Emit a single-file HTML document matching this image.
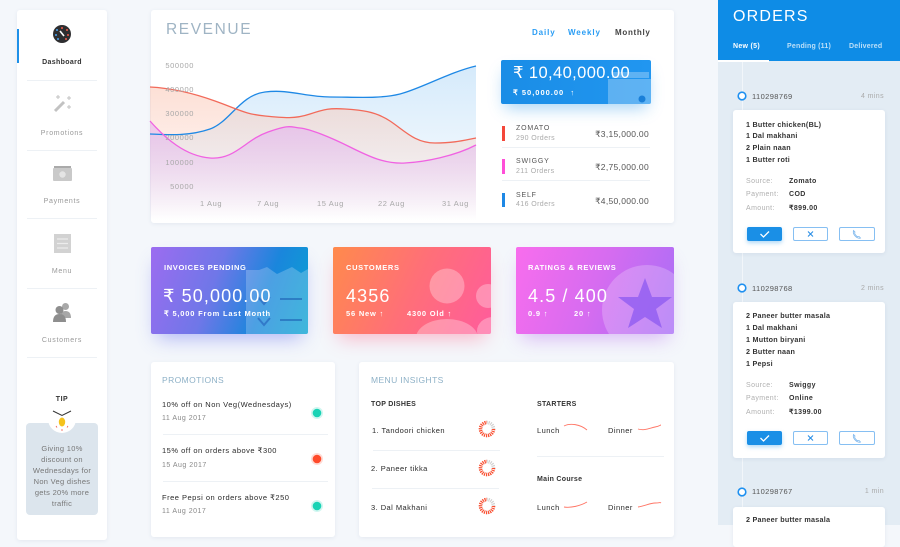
<!DOCTYPE html>
<html><head><meta charset="utf-8">
<style>
*{margin:0;padding:0;box-sizing:border-box}
body{width:900px;height:525px;overflow:hidden;background:#f4f7fb;font-family:"Liberation Sans",sans-serif;position:relative}
.a{position:absolute}
.t{position:absolute;line-height:1;white-space:nowrap}
.card{position:absolute;background:#fff;border-radius:3px;box-shadow:0 1px 4px rgba(40,70,110,0.08)}
.sep{position:absolute;height:1px;background:#edf1f5}
.sl{left:17px;width:90px;text-align:center;font-size:7px;color:#999;letter-spacing:.7px}
.yl{left:146px;width:48px;text-align:right;font-size:7.5px;color:#a8a8a8;letter-spacing:.6px}
.xl{font-size:7.5px;color:#a8a8a8;letter-spacing:.6px;top:199.5px}
.w{color:#fff}
.cl{font-size:7.5px;font-weight:bold;letter-spacing:.65px;color:#fff}
.cb{font-size:18px;letter-spacing:1.1px;color:#fff}
.cs{font-size:7.5px;font-weight:bold;letter-spacing:.8px;color:#fff}
.pi{font-size:7.5px;color:#2a2a2a;letter-spacing:.5px;left:162px}
.pd{font-size:7px;color:#888;letter-spacing:.5px;left:162px}
.dish{font-size:7.5px;color:#2a2a2a;letter-spacing:.45px}
.oi{font-size:7.2px;font-weight:bold;color:#333;letter-spacing:.25px;left:746px}
.ol{font-size:7px;color:#b0b0b0;letter-spacing:.4px;left:746px}
.ov{font-size:7px;font-weight:bold;color:#333;letter-spacing:.4px;left:789px}
.on{font-size:7.5px;color:#555;letter-spacing:.4px;left:752px}
.om{font-size:7px;color:#aaa;letter-spacing:.4px;left:820px;width:64px;text-align:right}
.btn{position:absolute;height:14px;border-radius:2px;border:1px solid #86bff2;background:#fff}
</style></head><body>

<!-- Sidebar -->
<div class="card" style="left:17px;top:10px;width:90px;height:530px"></div>
<div class="a" style="left:17px;top:29px;width:2px;height:34px;background:#1e90e8"></div>
<div class="sep" style="left:27px;top:80px;width:70px"></div>
<div class="sep" style="left:27px;top:150px;width:70px"></div>
<div class="sep" style="left:27px;top:218px;width:70px"></div>
<div class="sep" style="left:27px;top:288px;width:70px"></div>
<div class="sep" style="left:27px;top:357px;width:70px"></div>
<div class="a" style="left:26px;top:423px;width:72px;height:92px;background:#dce5ed;border-radius:4px"></div>

<!-- Revenue card -->
<div class="card" style="left:151px;top:10px;width:523px;height:213px"></div>

<!-- Colored cards -->
<div class="a" style="left:151px;top:247px;width:157px;height:87px;border-radius:2px;overflow:hidden;background:linear-gradient(110deg,#9c6cf0 0%,#6f77e8 40%,#1a86dc 70%,#0aa3d2 100%);box-shadow:0 10px 18px -6px rgba(90,100,240,0.45)">
<svg width="157" height="87" style="position:absolute;left:0;top:0">
<polygon points="95,23 108,23 116,20 126,27 141,20 150,26 157,22 157,87 95,87" fill="rgba(255,255,255,0.22)"/>
<polyline points="107,50 113,57 119,50" fill="none" stroke="rgba(20,70,170,0.45)" stroke-width="2"/>
<polyline points="107,71 113,78 119,71" fill="none" stroke="rgba(20,70,170,0.45)" stroke-width="2"/>
<line x1="129" y1="52" x2="151" y2="52" stroke="rgba(20,80,170,0.5)" stroke-width="2"/>
<line x1="129" y1="73" x2="151" y2="73" stroke="rgba(20,80,170,0.5)" stroke-width="2"/>
</svg></div>
<div class="a" style="left:333px;top:247px;width:158px;height:87px;border-radius:2px;overflow:hidden;background:linear-gradient(115deg,#ff8a4c 0%,#ff6f78 50%,#ff5c9c 100%);box-shadow:0 10px 18px -6px rgba(255,100,140,0.45)">
<svg width="158" height="87" style="position:absolute;left:0;top:0">
<circle cx="114" cy="39" r="17.5" fill="rgba(255,255,255,0.3)"/>
<circle cx="155" cy="49" r="12" fill="rgba(255,255,255,0.3)"/>
<ellipse cx="114" cy="91" rx="31" ry="19" fill="rgba(255,255,255,0.3)"/>
<ellipse cx="160" cy="84" rx="16" ry="14" fill="rgba(255,255,255,0.3)"/>
</svg></div>
<div class="a" style="left:516px;top:247px;width:158px;height:87px;border-radius:2px;overflow:hidden;background:linear-gradient(110deg,#f86ded 0%,#d66cf0 50%,#a86ef6 100%);box-shadow:0 10px 18px -6px rgba(180,100,240,0.45)">
<svg width="158" height="87" style="position:absolute;left:0;top:0">
<circle cx="131" cy="63" r="45" fill="rgba(255,255,255,0.22)"/>
<polygon points="129,31 136,50 156,50 140,62 146,81 129,70 112,81 118,62 102,50 122,50" fill="rgba(140,90,240,0.75)"/>
</svg></div>

<!-- Promotions & Menu cards -->
<div class="card" style="left:151px;top:362px;width:184px;height:175px"></div>
<div class="card" style="left:359px;top:362px;width:315px;height:175px"></div>
<div class="sep" style="left:163px;top:434px;width:165px"></div>
<div class="sep" style="left:163px;top:481px;width:165px"></div>
<div class="sep" style="left:373px;top:450px;width:127px"></div>
<div class="sep" style="left:372px;top:488px;width:127px"></div>
<div class="sep" style="left:537px;top:456px;width:127px"></div>

<!-- Orders panel -->
<div class="a" style="left:718px;top:0;width:182px;height:525px;background:#e3ecf4"></div>
<div class="a" style="left:718px;top:0;width:182px;height:61px;background:#0e8ce6"></div>
<div class="a" style="left:718px;top:60px;width:51px;height:2px;background:#fff"></div>
<div class="a" style="left:742px;top:62px;width:1px;height:463px;background:#f2f6fa"></div>
<div class="card" style="left:733px;top:110px;width:152px;height:143px"></div>
<div class="card" style="left:733px;top:302px;width:152px;height:156px"></div>
<div class="card" style="left:733px;top:507px;width:152px;height:40px"></div>

<div class="btn" style="left:747px;top:227px;width:35px;background:#1a8fe6;border-color:#1a8fe6;box-shadow:0 2px 4px rgba(26,143,230,0.35)"></div>
<div class="btn" style="left:793px;top:227px;width:35px"></div>
<div class="btn" style="left:839px;top:227px;width:36px"></div>
<div class="btn" style="left:747px;top:431px;width:35px;background:#1a8fe6;border-color:#1a8fe6;box-shadow:0 2px 4px rgba(26,143,230,0.35)"></div>
<div class="btn" style="left:793px;top:431px;width:35px"></div>
<div class="btn" style="left:839px;top:431px;width:36px"></div>

<!-- Revenue total box -->
<div class="a" style="left:501px;top:60px;width:150px;height:44px;border-radius:2px;overflow:hidden;background:linear-gradient(90deg,#1a8de6,#2196f0);box-shadow:0 8px 16px -4px rgba(30,144,230,0.4)">
<svg width="150" height="44" style="position:absolute;left:0;top:0">
<rect x="111" y="12" width="37" height="6" fill="rgba(255,255,255,0.28)"/>
<rect x="107" y="19" width="43" height="25" fill="rgba(255,255,255,0.28)"/>
<circle cx="141" cy="39" r="3.5" fill="#1a7fd8"/>
</svg></div>

<!-- Global SVG -->
<svg class="a" style="left:0;top:0" width="900" height="525" viewBox="0 0 900 525">
<defs>
<linearGradient id="gb" x1="0" y1="0" x2="0" y2="1"><stop offset="0" stop-color="#b9dcf8" stop-opacity=".6"/><stop offset="1" stop-color="#b9dcf8" stop-opacity="0"/></linearGradient>
<linearGradient id="gr" x1="0" y1="0" x2="0" y2="1"><stop offset="0" stop-color="#fbc6b4" stop-opacity=".55"/><stop offset="1" stop-color="#fbc6b4" stop-opacity="0"/></linearGradient>
<linearGradient id="gp" x1="0" y1="0" x2="0" y2="1"><stop offset="0" stop-color="#e2b0ef" stop-opacity=".6"/><stop offset="1" stop-color="#e2b0ef" stop-opacity="0"/></linearGradient>
<clipPath id="dq"><path d="M-10,-10 L0,-10 L0,0 L10,0 L10,10 L-10,10 Z"/></clipPath>
</defs>
<!-- chart fills -->
<path d="M150,134 C170,135 190,136 210,129 S240,95 265,92 S305,97 330,97 S380,99 400,94 S450,72 476,66 L476,220 L150,220 Z" fill="url(#gb)"/>
<path d="M150,87 C170,88 190,92 215,101 S245,114 265,116 S295,119 310,114 S330,108 345,109 S375,111 390,121 S415,143 435,143 S465,140 476,138 L476,220 L150,220 Z" fill="url(#gr)"/>
<path d="M150,121 C165,138 185,156 210,158 S245,140 268,132 S290,127 300,128 S330,137 350,147 S385,164 405,163 S455,156 476,145 L476,220 L150,220 Z" fill="url(#gp)"/>
<!-- chart lines -->
<path d="M150,134 C170,135 190,136 210,129 S240,95 265,92 S305,97 330,97 S380,99 400,94 S450,72 476,66" fill="none" stroke="#1e88e5" stroke-width="1.3"/>
<path d="M150,87 C170,88 190,92 215,101 S245,114 265,116 S295,119 310,114 S330,108 345,109 S375,111 390,121 S415,143 435,143 S465,140 476,138" fill="none" stroke="#f26a5a" stroke-width="1.3"/>
<path d="M150,121 C165,138 185,156 210,158 S245,140 268,132 S290,127 300,128 S330,137 350,147 S385,164 405,163 S455,156 476,145" fill="none" stroke="#f062e2" stroke-width="1.3"/>

<!-- revenue list bars -->
<rect x="502" y="126" width="3" height="15" fill="#f4473a"/>
<rect x="502" y="159" width="3" height="15" fill="#ff4fd8"/>
<rect x="502" y="193" width="3" height="14" fill="#1e88e5"/>
<line x1="502" y1="147.5" x2="650" y2="147.5" stroke="#edf1f5"/>
<line x1="502" y1="180.5" x2="650" y2="180.5" stroke="#edf1f5"/>

<!-- sidebar icons -->
<circle cx="62" cy="34" r="9" fill="#2e2e30"/>
<circle cx="57" cy="30" r="1" fill="#4aa3f0"/><circle cx="56" cy="35" r="1" fill="#4aa3f0"/><circle cx="58" cy="39" r="1" fill="#4aa3f0"/>
<circle cx="62" cy="28" r="1" fill="#f25a4a"/><circle cx="67" cy="30" r="1" fill="#f25a4a"/><circle cx="68" cy="35" r="1" fill="#f25a4a"/><circle cx="66" cy="39" r="1" fill="#f25a4a"/>
<line x1="60" y1="31" x2="64" y2="36" stroke="#fff" stroke-width="1.6"/>
<line x1="55" y1="111" x2="64" y2="102" stroke="#c2c2c2" stroke-width="3"/>
<path d="M58,95 v4 M56,97 h4 M69,96 v4 M67,98 h4 M69,105 v4 M67,107 h4" stroke="#c2c2c2" stroke-width="1"/>
<rect x="54" y="166" width="17" height="2" fill="#aaa"/>
<rect x="53" y="168" width="19" height="13" rx="1" fill="#c9c9c9"/>
<circle cx="62.5" cy="174.5" r="3.2" fill="#e4e4e4"/>
<rect x="54" y="234" width="17" height="19" fill="#d2d2d2"/>
<path d="M57,239 h11 M57,243.5 h11 M57,248 h11" stroke="#ececec" stroke-width="1.3"/>
<circle cx="65.5" cy="306.5" r="3.5" fill="#a8a8a8"/>
<path d="M60,318 Q60,311 65.5,311 Q71,311 71,318 Z" fill="#a8a8a8"/>
<circle cx="59.5" cy="310" r="4" fill="#8e8e8e"/>
<path d="M53,322 Q53,314 59.5,314 Q66,314 66,322 Z" fill="#8e8e8e"/>
<!-- tip bulb -->
<circle cx="62" cy="419" r="14" fill="#fff"/>
<polyline points="53,411 62,415.5 71,411" fill="none" stroke="#333" stroke-width="1"/>
<ellipse cx="62" cy="422" rx="3.2" ry="4.5" fill="#f5c21c"/>
<path d="M56,426 l1,1.5 M62,429 v2 M68,426 l-1,1.5" stroke="#f25a4a" stroke-width=".8"/>

<!-- promo dots -->
<circle cx="317" cy="413" r="6" fill="#19d3b5" opacity=".2"/><circle cx="317" cy="413" r="4.3" fill="#19d3b5"/>
<circle cx="317" cy="459" r="6" fill="#ff4b2b" opacity=".2"/><circle cx="317" cy="459" r="4.3" fill="#ff4b2b"/>
<circle cx="317" cy="506" r="6" fill="#19d3b5" opacity=".2"/><circle cx="317" cy="506" r="4.3" fill="#19d3b5"/>

<!-- donuts -->
<g transform="translate(487,429)"><circle r="6.5" fill="none" stroke="#cfcfcf" stroke-width="3.5" stroke-dasharray="1.1 0.9"/><circle r="6.5" fill="none" stroke="#ff4a2a" stroke-width="3.5" stroke-dasharray="1.1 0.9" clip-path="url(#dq)"/></g>
<g transform="translate(487,468)"><circle r="6.5" fill="none" stroke="#cfcfcf" stroke-width="3.5" stroke-dasharray="1.1 0.9"/><circle r="6.5" fill="none" stroke="#ff4a2a" stroke-width="3.5" stroke-dasharray="1.1 0.9" clip-path="url(#dq)"/></g>
<g transform="translate(487,506)"><circle r="6.5" fill="none" stroke="#cfcfcf" stroke-width="3.5" stroke-dasharray="1.1 0.9"/><circle r="6.5" fill="none" stroke="#ff4a2a" stroke-width="3.5" stroke-dasharray="1.1 0.9" clip-path="url(#dq)"/></g>

<!-- sparklines -->
<g fill="none" stroke="#ff7565" stroke-width=".9">
<path d="M564,426 C570,423 580,424 587,430"/>
<path d="M638,429 C644,431 650,428 655,427 S660,425 661,425"/>
<path d="M564,507 C571,508 580,506 587,502"/>
<path d="M638,507 C645,506 650,503 655,503 S660,502 661,503"/>
</g>

<!-- order timeline circles -->
<circle cx="742" cy="96" r="3.8" fill="#fff" stroke="#1e90f0" stroke-width="1.6"/>
<circle cx="742" cy="288" r="3.8" fill="#fff" stroke="#1e90f0" stroke-width="1.6"/>
<circle cx="742" cy="492" r="3.8" fill="#fff" stroke="#1e90f0" stroke-width="1.6"/>

<!-- button icons -->
<polyline points="760.5,234 763.5,237 769,231.5" fill="none" stroke="#fff" stroke-width="1.3"/>
<path d="M808,231.5 l5,5 M813,231.5 l-5,5" stroke="#2a8fe6" stroke-width="1.1"/>
<path d="M853.5,230.5 q-1,3 2,6 q3,2.5 5,1.5 l-1.5,-1.5 q-1.5,1 -3,-1 q-2,-2 -1,-3.5 z" fill="none" stroke="#7ab5ec" stroke-width=".8"/>
<polyline points="760.5,438 763.5,441 769,435.5" fill="none" stroke="#fff" stroke-width="1.3"/>
<path d="M808,435.5 l5,5 M813,435.5 l-5,5" stroke="#2a8fe6" stroke-width="1.1"/>
<path d="M853.5,434.5 q-1,3 2,6 q3,2.5 5,1.5 l-1.5,-1.5 q-1.5,1 -3,-1 q-2,-2 -1,-3.5 z" fill="none" stroke="#7ab5ec" stroke-width=".8"/>
</svg>

<!-- Sidebar text -->
<div class="t sl" style="top:58.5px;font-weight:bold;color:#333;letter-spacing:.35px">Dashboard</div>
<div class="t sl" style="top:129.5px">Promotions</div>
<div class="t sl" style="top:197.5px">Payments</div>
<div class="t sl" style="top:267.5px">Menu</div>
<div class="t sl" style="top:336.5px">Customers</div>
<div class="t sl" style="top:395.5px;font-weight:bold;color:#333;letter-spacing:.5px">TIP</div>
<div class="a" style="left:26px;top:443px;width:72px;text-align:center;font-size:7.5px;line-height:11px;color:#777;letter-spacing:.3px">Giving 10%<br>discount on<br>Wednesdays for<br>Non Veg dishes<br>gets 20% more<br>traffic</div>

<!-- Revenue text -->
<div class="t" style="left:166px;top:21.5px;font-size:15.5px;color:#9fb4c4;letter-spacing:1.6px">REVENUE</div>
<div class="t yl" style="top:62px">500000</div>
<div class="t yl" style="top:86px">400000</div>
<div class="t yl" style="top:110px">300000</div>
<div class="t yl" style="top:134px">200000</div>
<div class="t yl" style="top:158.5px">100000</div>
<div class="t yl" style="top:182.5px">50000</div>
<div class="t xl" style="left:200px">1 Aug</div>
<div class="t xl" style="left:257px">7 Aug</div>
<div class="t xl" style="left:317px">15 Aug</div>
<div class="t xl" style="left:378px">22 Aug</div>
<div class="t xl" style="left:442px">31 Aug</div>

<div class="t" style="left:532px;top:29px;font-size:8px;font-weight:bold;letter-spacing:.9px;color:#2a9df4">Daily</div>
<div class="t" style="left:568px;top:29px;font-size:8px;font-weight:bold;letter-spacing:.9px;color:#2a9df4">Weekly</div>
<div class="t" style="left:615px;top:29px;font-size:8px;font-weight:bold;letter-spacing:.7px;color:#444">Monthly</div>

<div class="t w" style="left:513px;top:64.5px;font-size:16.5px;letter-spacing:.4px">₹ 10,40,000.00</div>
<div class="t w" style="left:513px;top:88.5px;font-size:7.5px;font-weight:bold;letter-spacing:1px">₹ 50,000.00 &nbsp;↑</div>

<div class="t" style="left:516px;top:124.5px;font-size:7px;letter-spacing:.8px;color:#555">ZOMATO</div>
<div class="t" style="left:516px;top:134.5px;font-size:7px;letter-spacing:.4px;color:#aaa">290 Orders</div>
<div class="t" style="left:550px;width:99px;text-align:right;top:130px;font-size:8.5px;letter-spacing:.3px;color:#555">₹3,15,000.00</div>
<div class="t" style="left:516px;top:158px;font-size:7px;letter-spacing:.8px;color:#555">SWIGGY</div>
<div class="t" style="left:516px;top:167.5px;font-size:7px;letter-spacing:.4px;color:#aaa">211 Orders</div>
<div class="t" style="left:550px;width:99px;text-align:right;top:162.5px;font-size:8.5px;letter-spacing:.3px;color:#555">₹2,75,000.00</div>
<div class="t" style="left:516px;top:191.5px;font-size:7px;letter-spacing:.8px;color:#555">SELF</div>
<div class="t" style="left:516px;top:200.5px;font-size:7px;letter-spacing:.4px;color:#aaa">416 Orders</div>
<div class="t" style="left:550px;width:99px;text-align:right;top:196.5px;font-size:8.5px;letter-spacing:.3px;color:#555">₹4,50,000.00</div>

<!-- Colored card text -->
<div class="t cl" style="left:164px;top:264px">INVOICES PENDING</div>
<div class="t cb" style="left:163px;top:286.5px">₹ 50,000.00</div>
<div class="t cs" style="left:164px;top:310px">₹ 5,000 From Last Month</div>
<div class="t cl" style="left:346px;top:264px">CUSTOMERS</div>
<div class="t cb" style="left:346px;top:286.5px">4356</div>
<div class="t cs" style="left:346px;top:310px">56 New ↑</div>
<div class="t cs" style="left:407px;top:310px">4300 Old ↑</div>
<div class="t cl" style="left:528px;top:264px">RATINGS &amp; REVIEWS</div>
<div class="t cb" style="left:528px;top:286.5px">4.5 / 400</div>
<div class="t cs" style="left:528px;top:310px">0.9 ↑</div>
<div class="t cs" style="left:574px;top:310px">20 ↑</div>

<!-- Promotions text -->
<div class="t" style="left:162px;top:376px;font-size:8.5px;letter-spacing:.4px;color:#8eb1c7">PROMOTIONS</div>
<div class="t pi" style="top:401px">10% off on Non Veg(Wednesdays)</div>
<div class="t pd" style="top:414.5px">11 Aug 2017</div>
<div class="t pi" style="top:447px">15% off on orders above ₹300</div>
<div class="t pd" style="top:461.5px">15 Aug 2017</div>
<div class="t pi" style="top:494px">Free Pepsi on orders above ₹250</div>
<div class="t pd" style="top:507.5px">11 Aug 2017</div>

<!-- Menu insights text -->
<div class="t" style="left:371px;top:376px;font-size:8.5px;letter-spacing:.4px;color:#8eb1c7">MENU INSIGHTS</div>
<div class="t" style="left:371px;top:401px;font-size:7px;font-weight:bold;letter-spacing:.3px;color:#333">TOP DISHES</div>
<div class="t dish" style="left:372px;top:427px">1. Tandoori chicken</div>
<div class="t dish" style="left:371px;top:465px">2. Paneer tikka</div>
<div class="t dish" style="left:371px;top:504px">3. Dal Makhani</div>
<div class="t" style="left:537px;top:401px;font-size:7px;font-weight:bold;letter-spacing:.3px;color:#333">STARTERS</div>
<div class="t dish" style="left:537px;top:427px">Lunch</div>
<div class="t dish" style="left:608px;top:427px">Dinner</div>
<div class="t" style="left:537px;top:476px;font-size:7px;font-weight:bold;letter-spacing:.3px;color:#333">Main Course</div>
<div class="t dish" style="left:537px;top:504px">Lunch</div>
<div class="t dish" style="left:608px;top:504px">Dinner</div>

<!-- Orders text -->
<div class="t w" style="left:733px;top:9px;font-size:16px;letter-spacing:1.2px">ORDERS</div>
<div class="t w" style="left:733px;top:42.5px;font-size:7px;font-weight:bold;letter-spacing:.3px">New (5)</div>
<div class="t" style="left:787px;top:42.5px;font-size:7px;font-weight:bold;letter-spacing:.2px;color:rgba(255,255,255,0.72)">Pending (11)</div>
<div class="t" style="left:849px;top:42.5px;font-size:7px;font-weight:bold;letter-spacing:.2px;color:rgba(255,255,255,0.72)">Delivered</div>

<div class="t on" style="top:92.5px">110298769</div>
<div class="t om" style="top:92.5px">4 mins</div>
<div class="t oi" style="top:120.7px">1 Butter chicken(BL)</div>
<div class="t oi" style="top:132.4px">1 Dal makhani</div>
<div class="t oi" style="top:144px">2 Plain naan</div>
<div class="t oi" style="top:156.4px">1 Butter roti</div>
<div class="t ol" style="top:177.5px">Source:</div><div class="t ov" style="top:177.5px">Zomato</div>
<div class="t ol" style="top:191px">Payment:</div><div class="t ov" style="top:191px">COD</div>
<div class="t ol" style="top:205px">Amount:</div><div class="t ov" style="top:205px">₹899.00</div>

<div class="t on" style="top:284.5px">110298768</div>
<div class="t om" style="top:284.5px">2 mins</div>
<div class="t oi" style="top:312.4px">2 Paneer butter masala</div>
<div class="t oi" style="top:324.4px">1 Dal makhani</div>
<div class="t oi" style="top:336.4px">1 Mutton biryani</div>
<div class="t oi" style="top:348.4px">2 Butter naan</div>
<div class="t oi" style="top:360.4px">1 Pepsi</div>
<div class="t ol" style="top:381.5px">Source:</div><div class="t ov" style="top:381.5px">Swiggy</div>
<div class="t ol" style="top:394.8px">Payment:</div><div class="t ov" style="top:394.8px">Online</div>
<div class="t ol" style="top:409px">Amount:</div><div class="t ov" style="top:409px">₹1399.00</div>

<div class="t on" style="top:488px">110298767</div>
<div class="t om" style="top:488px">1 min</div>
<div class="t oi" style="top:516.4px">2 Paneer butter masala</div>

</body></html>
